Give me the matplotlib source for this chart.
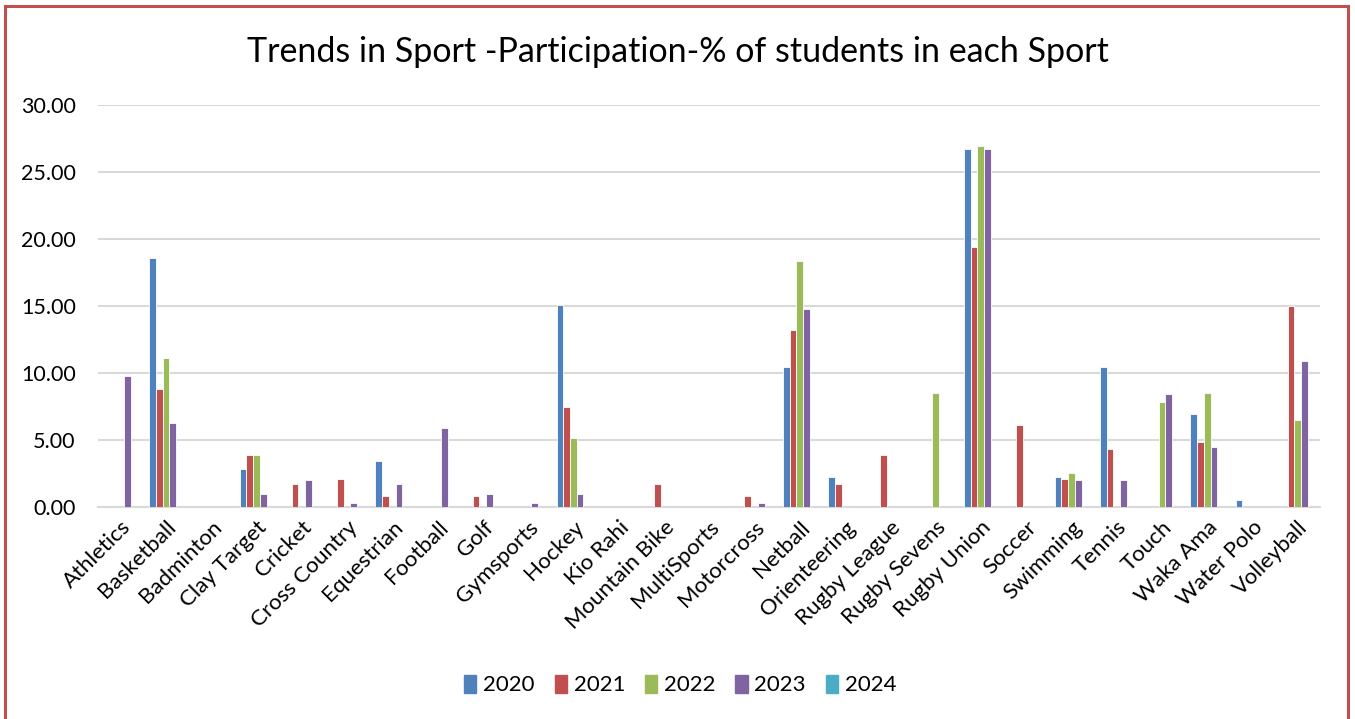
import matplotlib.pyplot as plt
import matplotlib.patches as mpatches
import numpy as np

plt.rcParams['font.family'] = ['Lato', 'DejaVu Sans']

sports = ["Athletics", "Basketball", "Badminton", "Clay Target", "Cricket",
          "Cross Country", "Equestrian", "Football", "Golf", "Gymsports",
          "Hockey", "Kio Rahi", "Mountain Bike", "MultiSports", "Motorcross",
          "Netball", "Orienteering", "Rugby League", "Rugby Sevens",
          "Rugby Union", "Soccer", "Swimming", "Tennis", "Touch", "Waka Ama",
          "Water Polo", "Volleyball"]

years = ["2020", "2021", "2022", "2023", "2024"]

y2020 = [0, 18.60, 0, 2.88, 0, 0, 3.48, 0, 0, 0, 15.10, 0, 0, 0, 0,
         10.45, 2.28, 0, 0, 26.75, 0, 2.28, 10.45, 0, 6.96, 0.53, 0]
y2021 = [0, 8.83, 0, 3.95, 1.73, 2.15, 0.83, 0, 0.83, 0, 7.50, 0, 1.73, 0, 0.83,
         13.25, 1.73, 3.95, 0, 19.47, 6.15, 2.15, 4.40, 0, 4.85, 0, 15.03]
y2022 = [0, 11.15, 0, 3.90, 0, 0, 0, 0, 0, 0, 5.22, 0, 0, 0, 0,
         18.42, 0, 0, 8.52, 26.97, 0, 2.60, 0, 7.87, 8.52, 0, 6.55]
y2023 = [9.84, 6.30, 0, 1.00, 2.07, 0.30, 1.73, 5.95, 1.00, 0.30, 1.00, 0, 0, 0, 0.30,
         14.78, 0, 0, 0, 26.77, 0, 2.07, 2.07, 8.44, 4.55, 0, 10.91]
y2024 = [0] * len(sports)

series = [y2020, y2021, y2022, y2023, y2024]
colors = ["#4F81BD", "#C0504D", "#9BBB59", "#8064A2", "#4BACC6"]

fig = plt.figure(figsize=(13.55, 7.19), dpi=100)

# red frame round the whole chart
frame = mpatches.Rectangle((0.0035, -0.05), 0.9915, 1.041, transform=fig.transFigure,
                           fill=False, edgecolor="#C0504D", linewidth=2.2)
fig.patches.append(frame)

ax = fig.add_axes([0.0723, 0.2942, 0.9022, 0.5591])

x = np.arange(len(sports))
w = 0.149
for i, (vals, c, lab) in enumerate(zip(series, colors, years)):
    ax.bar(x + (i - 2) * w, vals, width=w, color=c, edgecolor="white",
           linewidth=0.6, label=lab, zorder=3)

ax.set_xlim(-0.5, len(sports) - 0.5)
ax.set_ylim(0, 30)
ticks = np.arange(0, 31, 5)
ax.set_yticks(ticks)
ax.set_yticklabels([f"{v:.2f}" for v in ticks], fontsize=15.5)
ax.yaxis.grid(True, color="#D9D9D9", linewidth=1.5, zorder=0)
ax.set_axisbelow(True)
for s in ["top", "right", "left"]:
    ax.spines[s].set_visible(False)
ax.spines["bottom"].set_color("#D9D9D9")
ax.spines["bottom"].set_linewidth(1.5)
ax.tick_params(length=0)
ax.tick_params(axis="y", pad=16)
ax.tick_params(axis="x", pad=7)

ax.set_xticks(x)
ax.set_xticklabels(sports, rotation=45, ha="right", rotation_mode="anchor", fontsize=16)

fig.text(0.5, 0.927, "Trends in Sport -Participation-% of students in each Sport",
         ha="center", va="center", fontsize=24.5)

handles = [mpatches.Patch(color=c, label=l) for c, l in zip(colors, years)]
fig.legend(handles=handles, loc="center", bbox_to_anchor=(0.502, 0.047), ncol=5,
           frameon=False, fontsize=16, handlelength=0.55, handleheight=0.85,
           handletextpad=0.3, columnspacing=0.9)

fig.savefig("out.png", dpi=100)
